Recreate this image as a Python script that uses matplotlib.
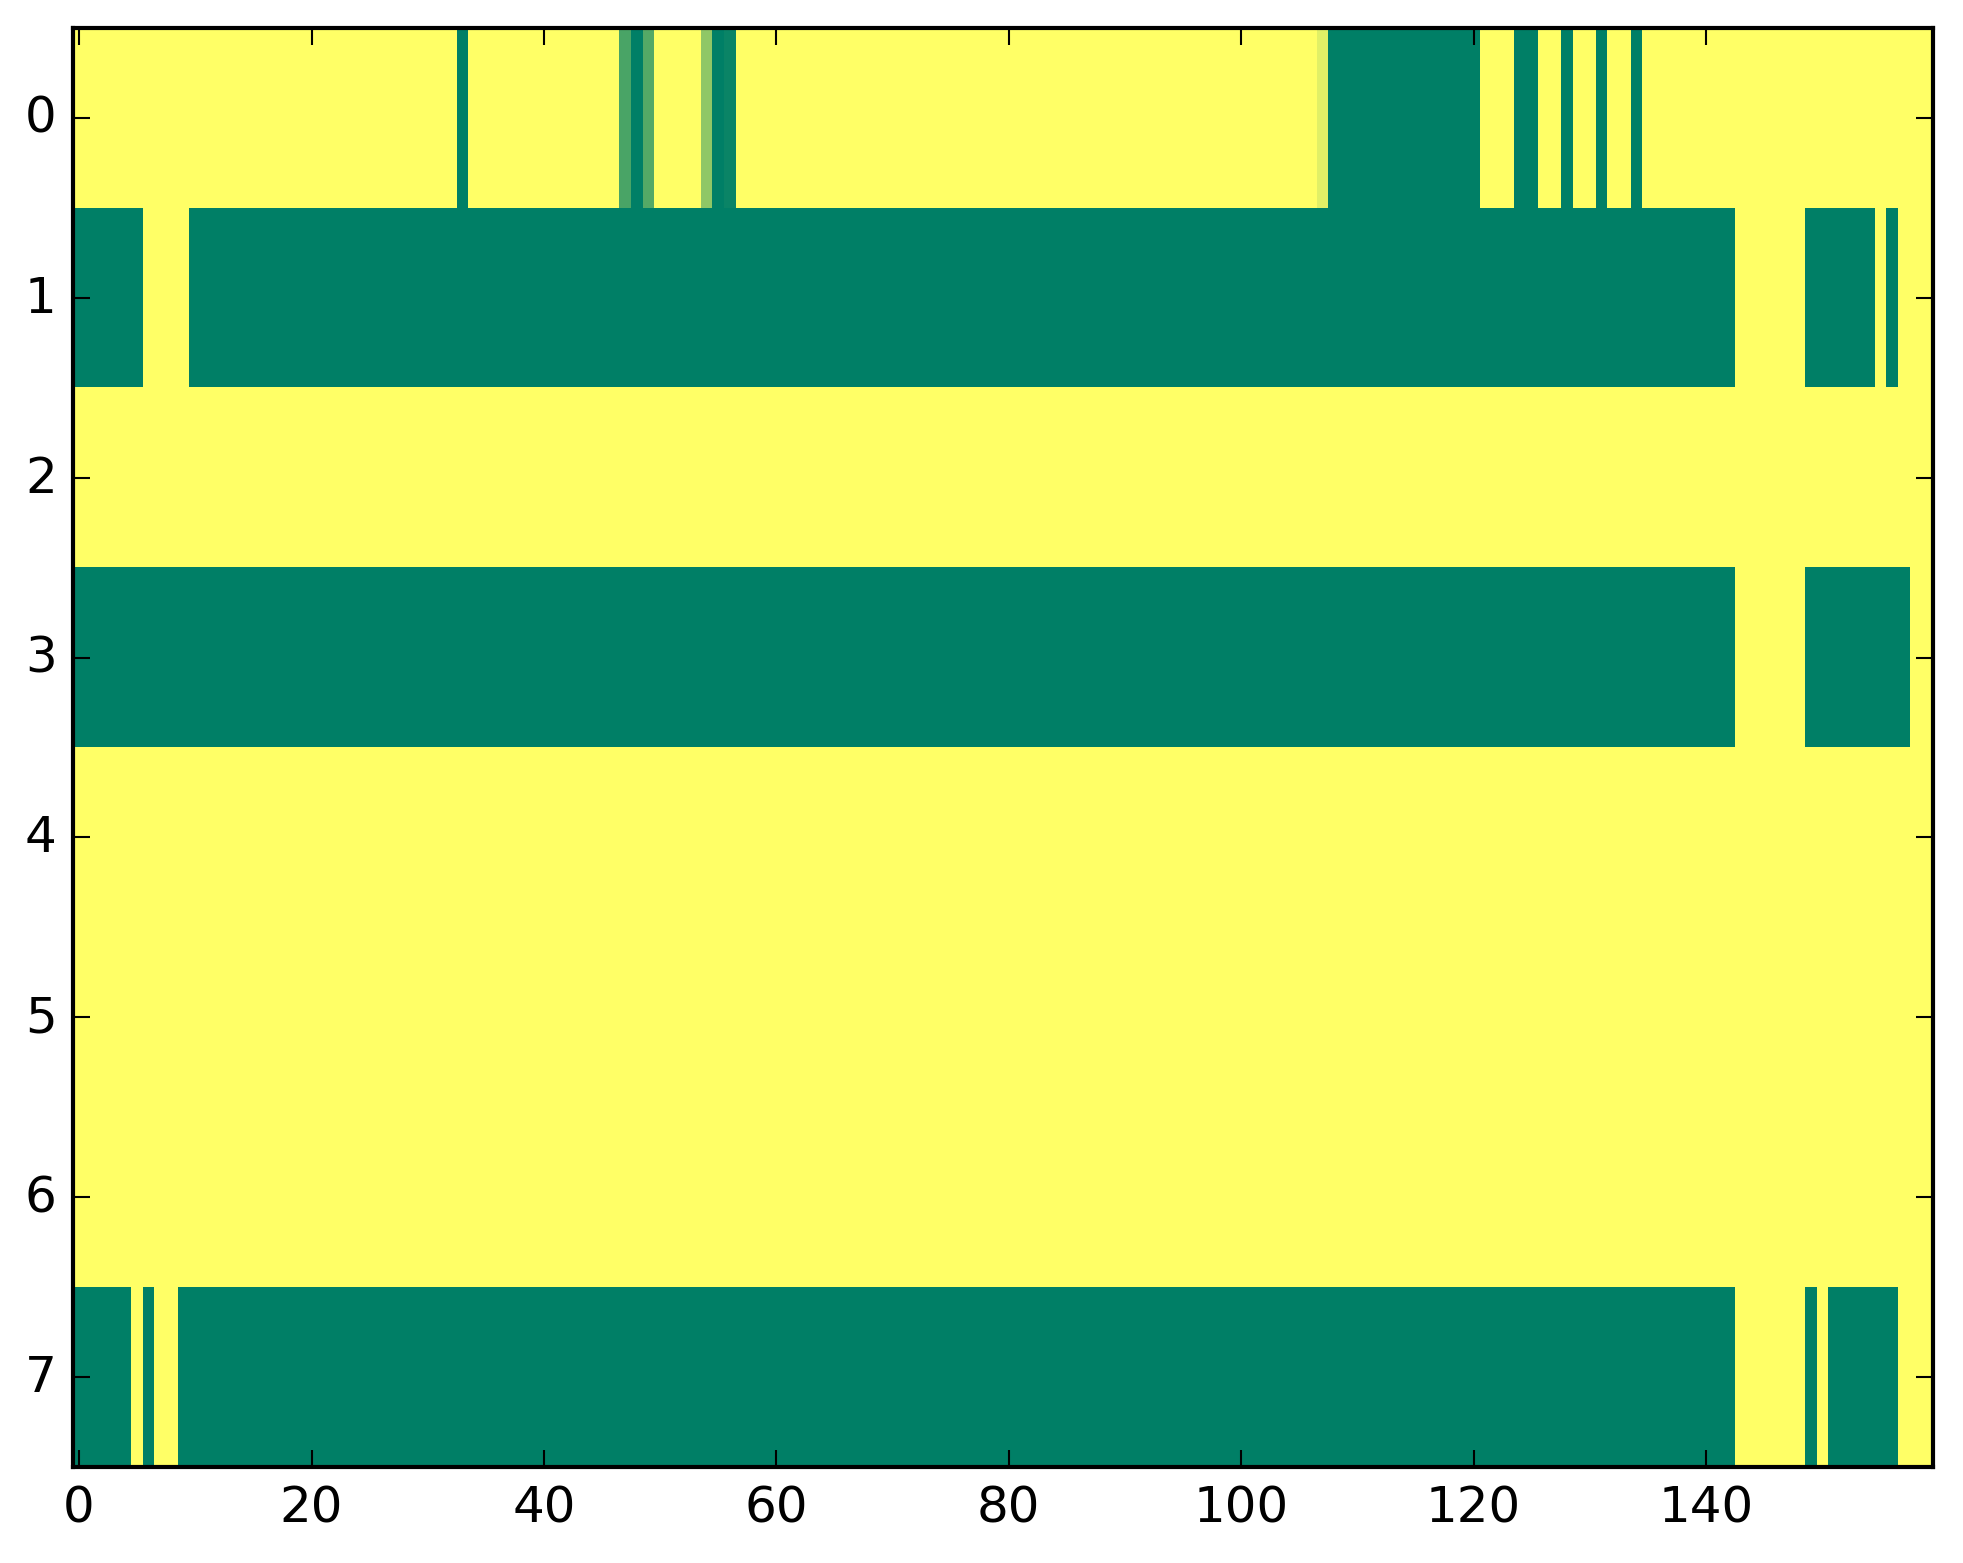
import numpy as np
import matplotlib
matplotlib.use("Agg")
import matplotlib.pyplot as plt

plt.style.use("classic")

# Each row is given as run-length pairs: (value, number of consecutive columns)
row0 = [(1, 33), (0, 1), (1, 13), (0.29, 1), (0, 1), (0.33, 1), (1, 4), (0.56, 1),
        (0, 1), (0.04, 1), (1, 50), (0.88, 1), (0, 13), (1, 3), (0, 2), (1, 2),
        (0, 1), (1, 2), (0, 1), (1, 2), (0, 1), (1, 25)]
row1 = [(0, 6), (1, 4), (0, 133), (1, 6), (0, 6), (1, 1), (0, 1), (1, 3)]
row2 = [(1, 160)]
row3 = [(0, 143), (1, 6), (0, 9), (1, 2)]
row4 = [(1, 160)]
row5 = [(1, 160)]
row6 = [(1, 160)]
row7 = [(0, 5), (1, 1), (0, 1), (1, 2), (0, 134), (1, 6), (0, 1), (1, 1), (0, 6), (1, 3)]

rows = [row0, row1, row2, row3, row4, row5, row6, row7]
matrix = np.array([np.concatenate([np.full(n, v, dtype=float) for v, n in r]) for r in rows])

fig = plt.figure(figsize=(1963 / 300, 1564 / 300), dpi=300)
ax = fig.add_axes([73.3 / 1963, 1 - 1468 / 1564, (1932.7 - 73.3) / 1963, (1468 - 29) / 1564])
ax.imshow(matrix, cmap="summer", vmin=0, vmax=1, aspect="auto", interpolation="nearest")
ax.set_xlim(-0.5, matrix.shape[1] - 0.5)
ax.set_ylim(matrix.shape[0] - 0.5, -0.5)
ax.set_xticks(np.arange(0, 141, 20))
ax.set_yticks(np.arange(0, 8))
fig.savefig("out.png", dpi=300)
